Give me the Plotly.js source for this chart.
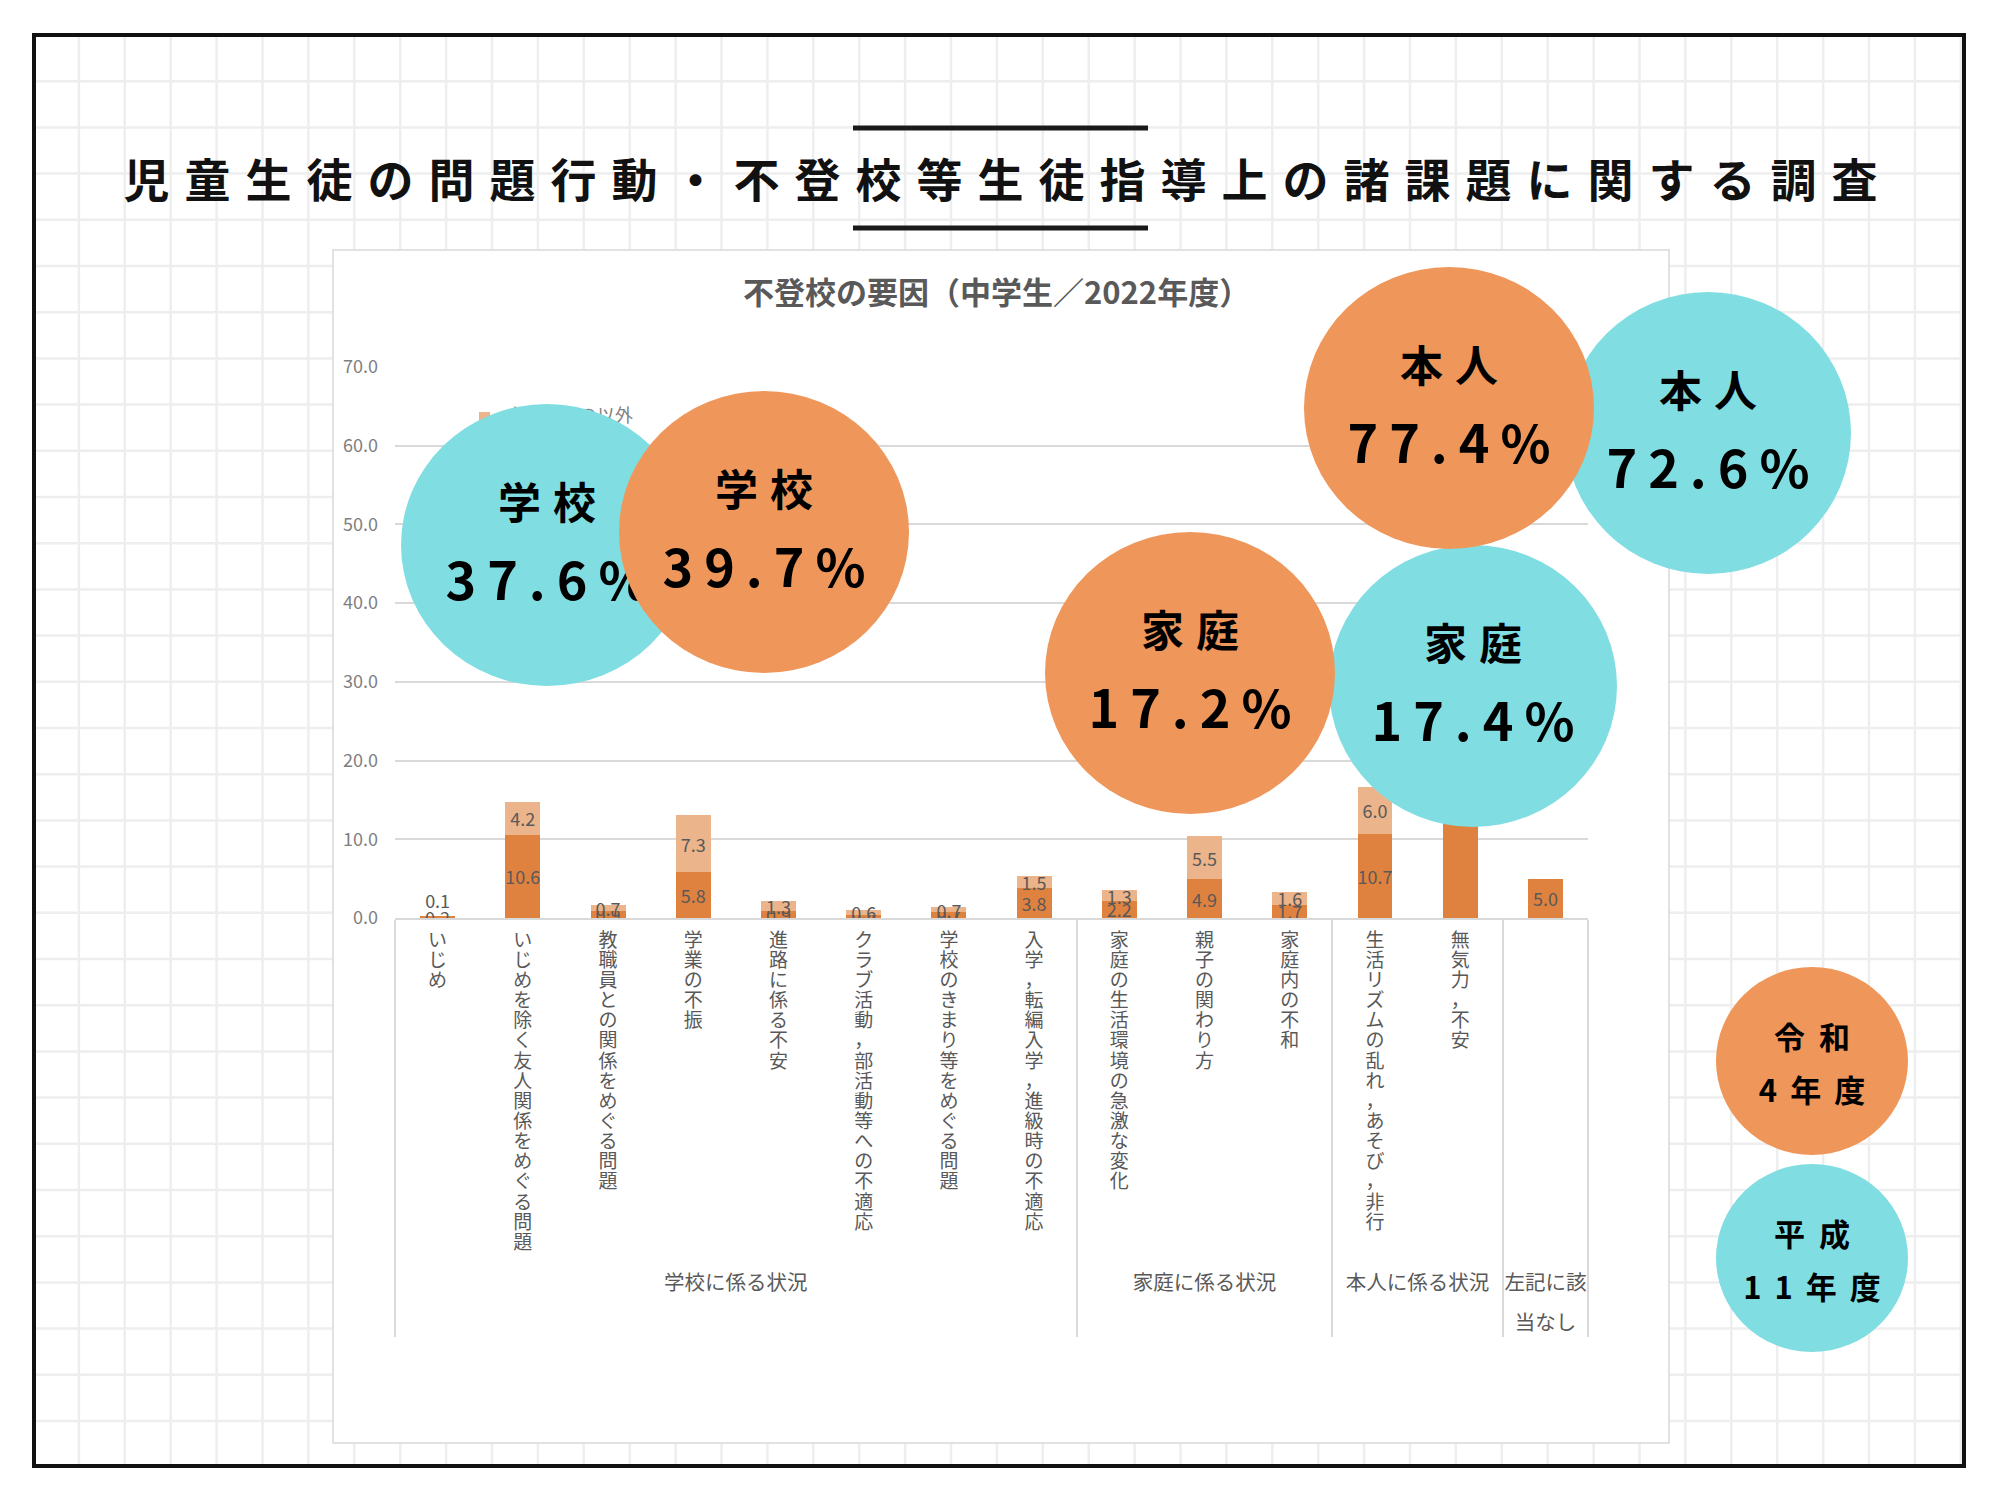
<!DOCTYPE html>
<html>
<head>
<meta charset="utf-8">
<script src="https://cdn.plot.ly/plotly-3.0.1.min.js"></script>
<style>
  html, body { margin: 0; padding: 0; background: #ffffff; }
  #chart { width: 2000px; height: 1500px; }
</style>
</head>
<body>
<div id="chart"></div>
<script>
// ---------------- data ----------------
const pageTitle = '児童生徒の問題行動・不登校等生徒指導上の諸課題に関する調査';
const chartTitle = '不登校の要因（中学生／2022年度）';

const itemGroups = [
  '学校に係る状況', '学校に係る状況', '学校に係る状況', '学校に係る状況',
  '学校に係る状況', '学校に係る状況', '学校に係る状況', '学校に係る状況',
  '家庭に係る状況', '家庭に係る状況', '家庭に係る状況',
  '本人に係る状況', '本人に係る状況',
  '左記に該当なし'
];
const items = [
  'いじめ',
  'いじめを除く友人関係をめぐる問題',
  '教職員との関係をめぐる問題',
  '学業の不振',
  '進路に係る不安',
  'クラブ活動，部活動等への不適応',
  '学校のきまり等をめぐる問題',
  '入学，転編入学，進級時の不適応',
  '家庭の生活環境の急激な変化',
  '親子の関わり方',
  '家庭内の不和',
  '生活リズムの乱れ，あそび，非行',
  '無気力，不安',
  ' '
];
const seriesNames = ['主たるもの', '主たるもの以外'];
const mainCause  = [0.2, 10.6, 0.9, 5.8, 0.9, 0.4, 0.7, 3.8, 2.2, 4.9, 1.7, 10.7, 52.2, 5.0];
const otherCause = [0.1, 4.2, 0.7, 7.3, 1.3, 0.6, 0.7, 1.5, 1.3, 5.5, 1.6, 6.0, 8.5, null];
const yTicks = [0, 10, 20, 30, 40, 50, 60, 70];

const areaNames = ['学校', '家庭', '本人'];
const shareReiwa4 = [39.7, 17.2, 77.4];
const shareHeisei11 = [37.6, 17.4, 72.6];
const eraLabels = [['令和', '4年度'], ['平成', '11年度']];

// ---------------- styling helpers ----------------
const FONT = '"Noto Sans CJK JP", "Noto Sans", sans-serif';
const W = 2000, H = 1500;
const px = x => x / W;
const py = y => 1 - y / H;
const DARK = '#E0823F', LIGHT = '#ECB48A';
const ERA_COLORS = ['#EF965A', '#80DDE2'];

function spaced(s, size, ls) {
  const a = Array.from(s);
  const head = a.slice(0, -1).join('');
  const tail = a[a.length - 1];
  return '<span style="font-size:' + size + 'px"><span style="letter-spacing:' + ls + 'px">' +
         head + '</span>' + tail + '</span>';
}
function vertical(s, size) {
  return Array.from(s).map(c => '<span style="font-size:' + size + 'px">' + c + '</span>').join('<br>');
}
const groupCount = g => itemGroups.filter(x => x === g).length;
function groupLabel(g) {
  const sz = '<span style="font-size:20.5px">';
  const t = groupCount(g) === 1
    ? sz + g.slice(0, 4) + '</span><br><br>' + sz + g.slice(4) + '</span>'
    : sz + g + '</span>';
  return '<br>' + t;
}

const xCats = [itemGroups.map(groupLabel), items.map(s => vertical(s, 19))];

// ---------------- traces ----------------
const traces = [
  {
    type: 'bar', name: seriesNames[0],
    x: xCats, y: mainCause,
    marker: { color: DARK },
    texttemplate: '%{y:.1f}', textposition: 'inside', insidetextanchor: 'middle',
    textangle: 0, constraintext: 'none',
    textfont: { family: FONT, size: 18, color: '#595959' },
    hoverinfo: 'skip'
  },
  {
    type: 'bar', name: seriesNames[1],
    x: xCats, y: otherCause,
    marker: { color: LIGHT },
    texttemplate: '%{y:.1f}',
    textposition: otherCause.map(v => (v !== null && v <= 0.1) ? 'outside' : 'inside'),
    insidetextanchor: 'middle', textangle: 0, constraintext: 'none', cliponaxis: false,
    textfont: { family: FONT, size: 18, color: '#595959' },
    hoverinfo: 'skip'
  }
];

// ---------------- decoration shapes ----------------
const shapes = [];
// page grid
let gridPath = '';
for (let x = 33 + 45.9; x < 1962; x += 45.9) gridPath += 'M' + px(x) + ',' + py(36) + 'L' + px(x) + ',' + py(1465);
for (let y = 35 + 46.2; y < 1463; y += 46.2) gridPath += 'M' + px(35) + ',' + py(y) + 'L' + px(1963) + ',' + py(y);
shapes.push({ type: 'path', path: gridPath, xref: 'paper', yref: 'paper', layer: 'below',
  line: { color: '#eeeeee', width: 2.5 } });
// outer frame
shapes.push({ type: 'rect', xref: 'paper', yref: 'paper', layer: 'below',
  x0: px(34), x1: px(1964), y0: py(35), y1: py(1466),
  fillcolor: 'rgba(0,0,0,0)', line: { color: '#111111', width: 4 } });
// title rules
[128, 228].forEach(yy => shapes.push({ type: 'line', xref: 'paper', yref: 'paper', layer: 'below',
  x0: px(853), x1: px(1148), y0: py(yy), y1: py(yy), line: { color: '#1a1a1a', width: 5 } }));
// chart panel
shapes.push({ type: 'rect', xref: 'paper', yref: 'paper', layer: 'below',
  x0: px(333), x1: px(1669), y0: py(250), y1: py(1443),
  fillcolor: '#ffffff', line: { color: '#d9d9d9', width: 1.5 } });

// legend (drawn as shapes so the circles can cover it)
const legendRows = [
  { name: seriesNames[1], color: LIGHT, y: 417 },
  { name: seriesNames[0], color: DARK, y: 447 }
];
legendRows.forEach(r => {
  shapes.push({ type: 'rect', xref: 'paper', yref: 'paper', layer: 'above',
    x0: px(479), x1: px(490), y0: py(r.y - 5), y1: py(r.y + 5),
    fillcolor: r.color, line: { width: 0 } });
  shapes.push({ type: 'rect', xref: 'paper', yref: 'paper', layer: 'above',
    x0: px(504), x1: px(720), y0: py(r.y - 12), y1: py(r.y + 12),
    fillcolor: 'rgba(0,0,0,0)', line: { width: 0 },
    label: { text: r.name, textposition: 'middle left', padding: 0,
      font: { family: FONT, size: 18, color: '#7f7f7f' } } });
});

// comparison circles (each circle followed by its own label, so later circles cover earlier text)
const shares = [shareReiwa4, shareHeisei11];
function addCircle(c, labelText, baseSize, lift) {
  shapes.push({ type: 'circle', xref: 'paper', yref: 'paper', layer: 'above',
    x0: px(c.cx - c.rx), x1: px(c.cx + c.rx), y0: py(c.cy + c.ry), y1: py(c.cy - c.ry),
    fillcolor: ERA_COLORS[c.era], line: { width: 0 } });
  shapes.push({ type: 'rect', xref: 'paper', yref: 'paper', layer: 'above',
    x0: px(c.cx - c.rx), x1: px(c.cx + c.rx), y0: py(c.cy + c.ry - lift), y1: py(c.cy - c.ry - lift),
    fillcolor: 'rgba(0,0,0,0)', line: { width: 0 },
    label: { text: labelText, textposition: 'middle center', padding: 0,
      font: { family: FONT, size: baseSize, color: '#000000', weight: 700 } } });
}
const circleSpecs = [
  { era: 1, area: 0, cx: 547,  cy: 545, rx: 146, ry: 141 },
  { era: 0, area: 0, cx: 764,  cy: 532, rx: 145, ry: 141 },
  { era: 1, area: 1, cx: 1473, cy: 686, rx: 144, ry: 141 },
  { era: 0, area: 1, cx: 1190, cy: 673, rx: 145, ry: 141 },
  { era: 1, area: 2, cx: 1708, cy: 433, rx: 143, ry: 141 },
  { era: 0, area: 2, cx: 1449, cy: 408, rx: 145, ry: 141 }
];
circleSpecs.forEach(c => addCircle(c,
  spaced(areaNames[c.area], 43, 12) + '<br>' + spaced(shares[c.era][c.area].toFixed(1) + '%', 52, 11),
  62, 15));
const eraSpecs = [
  { era: 0, cx: 1812, cy: 1061, rx: 96, ry: 94 },
  { era: 1, cx: 1812, cy: 1258, rx: 96, ry: 94 }
];
eraSpecs.forEach(c => addCircle(c,
  spaced(eraLabels[c.era][0], 31, 14) + '<br>' + spaced(eraLabels[c.era][1], 31, 13),
  41, 4));

// ---------------- layout ----------------
const titleChars = Array.from(pageTitle);
const layout = {
  width: W, height: H,
  margin: { l: 0, r: 0, t: 0, b: 0, pad: 0 },
  paper_bgcolor: '#ffffff', plot_bgcolor: 'rgba(0,0,0,0)',
  showlegend: false, hovermode: false,
  barmode: 'stack', bargap: 0.59,
  font: { family: FONT, color: '#595959' },
  title: {
    text: '<span style="letter-spacing:15px">' + titleChars.slice(0, -1).join('') + '</span>' + titleChars[titleChars.length - 1],
    xref: 'container', yref: 'container', x: 0.5003, y: py(181),
    xanchor: 'center', yanchor: 'middle',
    font: { family: FONT, size: 46, color: '#111111', weight: 700 }
  },
  xaxis: {
    type: 'multicategory', domain: [px(395), px(1588)], anchor: 'y',
    showgrid: false, zeroline: false,
    showline: true, linecolor: '#d9d9d9', linewidth: 2,
    showdividers: true, dividercolor: '#d9d9d9', dividerwidth: 2,
    ticks: '', tickangle: 0, ticklabelstandoff: 8,
    tickfont: { family: FONT, size: 15.5, color: '#595959' },
    fixedrange: true
  },
  yaxis: {
    domain: [py(918), py(367)], anchor: 'x',
    range: [0, 70], tickmode: 'array', tickvals: yTicks, tickformat: '.1f',
    showgrid: true, gridcolor: '#d9d9d9', gridwidth: 2,
    zeroline: false, showline: false, ticks: '', ticklabelstandoff: 16,
    tickfont: { family: FONT, size: 18, color: '#7f7f7f' },
    fixedrange: true
  },
  annotations: [{
    text: chartTitle, xref: 'paper', yref: 'paper',
    x: px(996), y: py(291), xanchor: 'center', yanchor: 'middle', showarrow: false,
    font: { family: FONT, size: 31, color: '#595959', weight: 700 }
  }],
  shapes: shapes
};

Plotly.newPlot('chart', traces, layout, { displayModeBar: false, staticPlot: true });
</script>
</body>
</html>
